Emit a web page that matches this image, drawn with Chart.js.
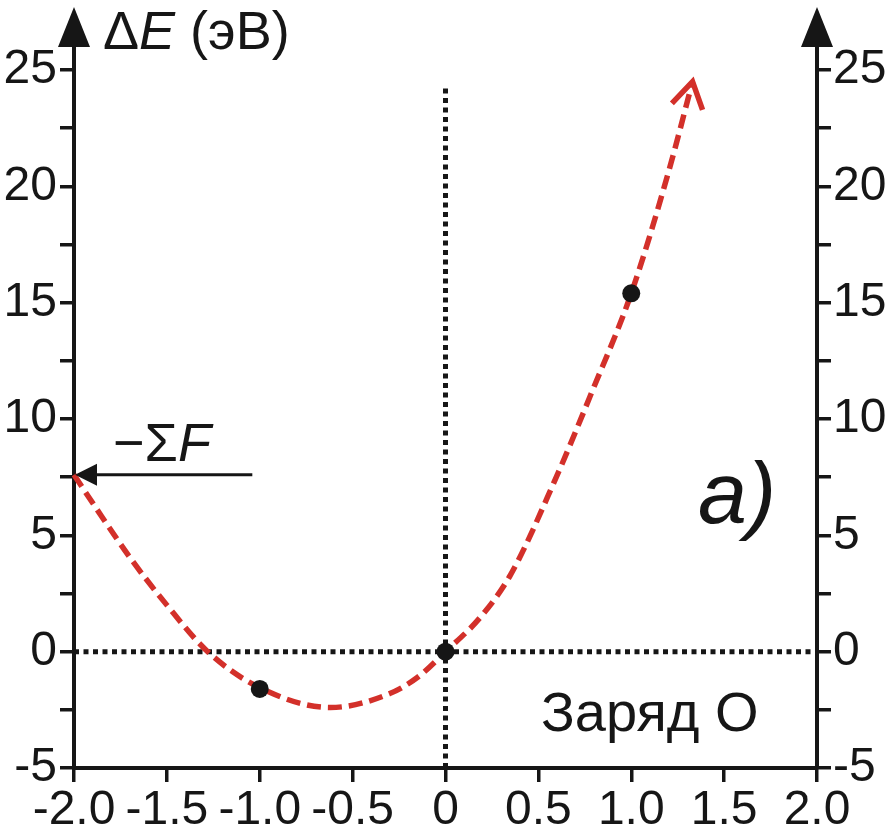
<!DOCTYPE html>
<html>
<head>
<meta charset="utf-8">
<script src="https://cdn.jsdelivr.net/npm/chart.js@4.4.1/dist/chart.umd.min.js"></script>
<style>
  body { margin: 0; background: #fff; }
  canvas { display: block; }
</style>
</head>
<body>
<canvas id="chart" width="887" height="835"></canvas>
<script>
//------------------ Data ------------------//
// red dashed curve
const curveX = [-2.0, -1.85, -1.69, -1.5, -1.28, -1.0, -0.62, -0.3, -0.15, 0, 0.19, 0.35, 0.58, 0.79, 1.0, 1.2, 1.33];
const curveY = [7.6, 5.8, 3.95, 2.0, 0, -1.55, -2.4, -1.8, -1.1, 0, 1.5, 3.3, 7.2, 11.2, 15.4, 20.6, 24.5];

// black computed points
const dotX = [-1, 0, 1];
const dotY = [-1.6, 0, 15.4];

// dotted reference lines
const zeroLineX = [-2, 2];
const zeroLineY = [0, 0];
const vertLineX = [0, 0];
const vertLineY = [-5, 24.3];

// axis ranges
const xMin = -2, xMax = 2, xStep = 0.5;
const yMin = -5, yMax = 25, yStep = 2.5;

// "-ΣF" arrow: from x, to x, at y
const forceArrow = [-1.04, -2, 7.6];

const ink = '#161616';
const red = '#d3302a';
const fontFam = '"Liberation Sans", Arial, sans-serif';

const toPts = (xs, ys) => xs.map((x, i) => ({ x: x, y: ys[i] }));

//------------------ Decorations plugin ------------------//
const decor = {
  id: 'decor',
  afterDraw(chart) {
    const ctx = chart.ctx;
    const ca = chart.chartArea;
    const sx = chart.scales.x, sy = chart.scales.y;
    ctx.save();
    ctx.fillStyle = ink;
    ctx.strokeStyle = ink;

    // arrows on both vertical axes
    [ca.left, ca.right].forEach(ax => {
      ctx.lineWidth = 4;
      ctx.beginPath();
      ctx.moveTo(ax, ca.top);
      ctx.lineTo(ax, 40);
      ctx.stroke();
      ctx.beginPath();
      ctx.moveTo(ax, 7);
      ctx.lineTo(ax - 16, 47);
      ctx.lineTo(ax + 16, 47);
      ctx.closePath();
      ctx.fill();
    });

    // -ΣF arrow
    const fy = sy.getPixelForValue(forceArrow[2]);
    const fx0 = sx.getPixelForValue(forceArrow[0]);
    const fx1 = sx.getPixelForValue(forceArrow[1]);
    ctx.lineWidth = 3;
    ctx.beginPath();
    ctx.moveTo(fx0, fy);
    ctx.lineTo(fx1 + 15, fy);
    ctx.stroke();
    ctx.beginPath();
    ctx.moveTo(fx1 + 1, fy);
    ctx.lineTo(fx1 + 23, fy - 11);
    ctx.lineTo(fx1 + 23, fy + 11);
    ctx.closePath();
    ctx.fill();

    // open arrowhead at the end of the curve
    const meta = chart.getDatasetMeta(1);
    const n = meta.data.length;
    const tip = meta.data[n - 1], prev = meta.data[n - 2];
    const ang = Math.atan2(tip.y - prev.y, tip.x - prev.x) - 0.05;
    ctx.strokeStyle = red;
    ctx.lineWidth = 5.5;
    ctx.beginPath();
    ctx.moveTo(tip.x + 30 * Math.cos(ang + Math.PI - 0.55), tip.y + 30 * Math.sin(ang + Math.PI - 0.55));
    ctx.lineTo(tip.x, tip.y);
    ctx.lineTo(tip.x + 30 * Math.cos(ang + Math.PI + 0.55), tip.y + 30 * Math.sin(ang + Math.PI + 0.55));
    ctx.stroke();

    // texts
    ctx.fillStyle = ink;
    ctx.textBaseline = 'alphabetic';
    ctx.textAlign = 'left';
    let tx = 103;
    ctx.font = '54px ' + fontFam;
    ctx.fillText('\u0394', tx, 49);
    tx += ctx.measureText('\u0394').width;
    ctx.font = 'italic 54px ' + fontFam;
    ctx.fillText('E', tx, 49);
    tx += ctx.measureText('E').width;
    ctx.font = '54px ' + fontFam;
    ctx.fillText(' (\u044dВ)', tx, 49);

    tx = 113;
    ctx.font = '54px ' + fontFam;
    ctx.fillText('\u2212\u03a3', tx, 461);
    tx += ctx.measureText('\u2212\u03a3').width;
    ctx.font = 'italic 54px ' + fontFam;
    ctx.fillText('F', tx, 461);

    ctx.font = '56px ' + fontFam;
    ctx.fillText('Заряд О', 541, 731);

    ctx.font = 'italic 88px ' + fontFam;
    ctx.fillText('a)', 698, 523);

    ctx.restore();
  }
};

//------------------ Chart ------------------//
const tickFont = { family: fontFam, size: 48 };

const yAxis = (pos, w) => ({
  type: 'linear',
  position: pos,
  min: yMin,
  max: yMax,
  afterFit: s => { s.width = w; },
  ticks: {
    stepSize: yStep,
    autoSkip: false,
    color: ink,
    font: tickFont,
    padding: pos === 'left' ? 3 : 2,
    callback: v => (v % 5 === 0 ? String(v) : '')
  },
  grid: { drawOnChartArea: false, color: ink, lineWidth: 3.5, tickLength: 14 },
  border: { color: ink, width: 4 }
});

new Chart(document.getElementById('chart'), {
  type: 'scatter',
  data: {
    datasets: [
      {
        data: toPts(dotX, dotY),
        pointRadius: 9,
        pointBackgroundColor: ink,
        pointBorderWidth: 0,
        showLine: false,
        order: 0
      },
      {
        data: toPts(curveX, curveY),
        showLine: true,
        borderColor: red,
        borderWidth: 5.5,
        borderDash: [14, 7],
        cubicInterpolationMode: 'monotone',
        pointRadius: 0,
        clip: false,
        order: 1
      },
      {
        data: toPts(zeroLineX, zeroLineY),
        showLine: true,
        borderColor: ink,
        borderWidth: 5,
        borderDash: [5, 4.5],
        pointRadius: 0,
        order: 2
      },
      {
        data: toPts(vertLineX, vertLineY),
        showLine: true,
        borderColor: ink,
        borderWidth: 5,
        borderDash: [5, 4.5],
        pointRadius: 0,
        order: 2
      }
    ]
  },
  options: {
    responsive: false,
    animation: false,
    devicePixelRatio: 1,
    layout: { padding: { top: 70, left: 0, right: 0, bottom: 0 } },
    plugins: { legend: { display: false }, tooltip: { enabled: false } },
    scales: {
      x: {
        type: 'linear',
        position: 'bottom',
        min: xMin,
        max: xMax,
        afterFit: s => { s.height = 67; },
        ticks: {
          stepSize: xStep,
          autoSkip: false,
          maxRotation: 0,
          color: ink,
          font: tickFont,
          padding: 0,
          callback: v => (v === 0 ? '0' : v.toFixed(1))
        },
        grid: { drawOnChartArea: false, color: ink, lineWidth: 3.5, tickLength: 14 },
        border: { color: ink, width: 4 }
      },
      y: yAxis('left', 74),
      y2: yAxis('right', 70)
    }
  },
  plugins: [decor]
});
</script>
</body>
</html>
